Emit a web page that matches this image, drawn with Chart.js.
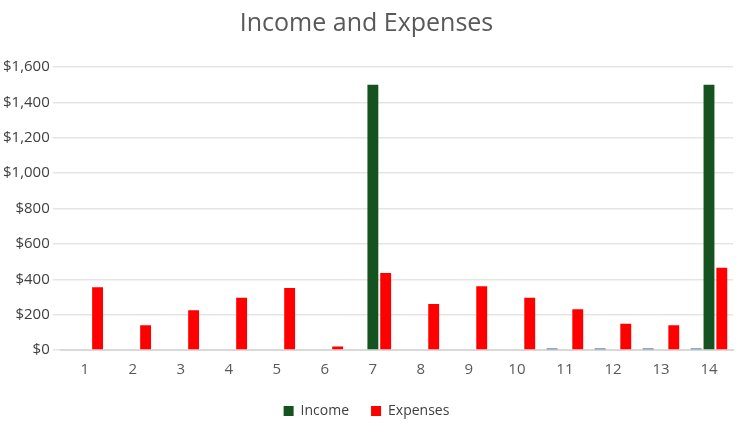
<!DOCTYPE html>
<html>
<head>
<script src="https://cdn.jsdelivr.net/npm/chart.js@4"></script>
<style>
  body { margin: 0; background: #fff; }
  #wrap { width: 743px; height: 436px; }
</style>
</head>
<body>
<div id="wrap"><canvas id="chart"></canvas></div>
<script>
const categories = ['1','2','3','4','5','6','7','8','9','10','11','12','13','14']
const other = [0,0,0,0,0,0,0,0,0,0,8,8,8,8]
const income = [0,0,0,0,0,0,1500,0,0,0,0,0,0,1500]
const expenses = [355,140,225,295,350,20,435,260,360,295,230,148,140,465]

new Chart(document.getElementById('chart'), {
    type: 'bar',
    data: {
        labels: categories,
        datasets: [
            { label: 'Other', data: other, backgroundColor: '#156082', categoryPercentage: 0.8, barPercentage: 0.85 },
            { label: 'Income', data: income, backgroundColor: '#145220', categoryPercentage: 0.8, barPercentage: 0.85 },
            { label: 'Expenses', data: expenses, backgroundColor: '#ff0000', categoryPercentage: 0.8, barPercentage: 0.85 }
        ]
    },
    options: {
        responsive: true,
        maintainAspectRatio: false,
        animation: false,
        layout: { padding: { left: 0, right: 10, top: 5, bottom: 8 } },
        plugins: {
            title: {
                display: true, text: 'Income and Expenses', color: '#595959',
                font: { family: 'Open Sans', size: 25, weight: 'normal' },
                padding: { top: 4, bottom: 28 }
            },
            legend: {
                position: 'bottom',
                labels: {
                    filter: item => item.text !== 'Other',
                    boxWidth: 10, boxHeight: 10, color: '#404040',
                    font: { family: 'Open Sans', size: 14 }, padding: 22
                }
            },
            tooltip: { enabled: false }
        },
        scales: {
            x: {
                grid: { display: false },
                border: { color: '#d9d9d9', width: 2 },
                ticks: { color: '#595959', font: { family: 'Open Sans', size: 15 } }
            },
            y: {
                min: 0, max: 1600,
                ticks: {
                    stepSize: 200, color: '#404040', font: { family: 'Open Sans', size: 15 },
                    callback: v => '$' + v.toLocaleString('en-US')
                },
                grid: { color: '#e5e5e5', lineWidth: 1.5 },
                border: { display: false }
            }
        }
    }
})
</script>
</body>
</html>
